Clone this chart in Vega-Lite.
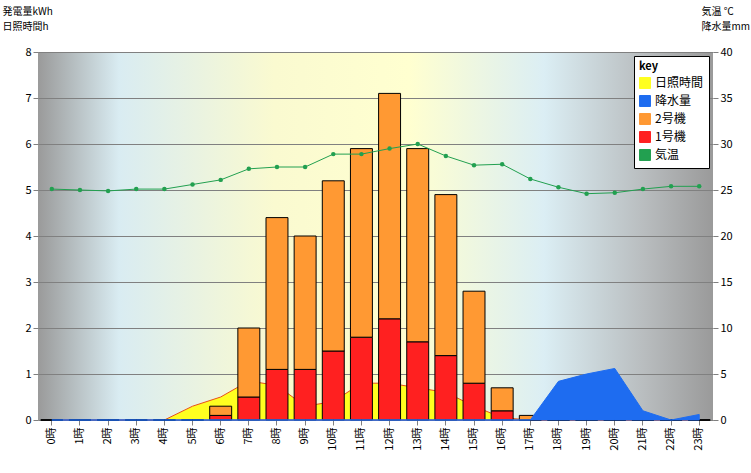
{
"$schema":"https://vega.github.io/schema/vega-lite/v6.json",
"width":675,"height":368,
"autosize":{"type":"none"},
"padding":{"left":38,"top":52,"right":38,"bottom":53},
"background":"white",
"config":{"font":"Noto Sans CJK JP","view":{"stroke":null,"fill":{"gradient":"linear","x1":0,"y1":0,"x2":1,"y2":0,"stops":[{"offset":0,"color":"#9a9a9a"},{"offset":0.12,"color":"#d9ecf2"},{"offset":0.35,"color":"#fafad0"},{"offset":0.55,"color":"#ffffd0"},{"offset":0.75,"color":"#dbeef4"},{"offset":0.9,"color":"#b8bcbe"},{"offset":1,"color":"#9a9a9a"}]}}},
"title":{"text":"2011年 6月25日(土)　総発電量 44.5kWh","fontSize":14,"fontWeight":"normal","offset":12,"color":"#000","anchor":"middle","frame":"group"},
"data":{"values":[
{"label":"0時","sun":0,"rain":0,"temp":25.1,"1号機":0,"2号機":0},
{"label":"1時","sun":0,"rain":0,"temp":25.0,"1号機":0,"2号機":0},
{"label":"2時","sun":0,"rain":0,"temp":24.9,"1号機":0,"2号機":0},
{"label":"3時","sun":0,"rain":0,"temp":25.1,"1号機":0,"2号機":0},
{"label":"4時","sun":0,"rain":0,"temp":25.1,"1号機":0,"2号機":0},
{"label":"5時","sun":0.3,"rain":0,"temp":25.6,"1号機":0,"2号機":0},
{"label":"6時","sun":0.5,"rain":0,"temp":26.1,"1号機":0.1,"2号機":0.2},
{"label":"7時","sun":0.85,"rain":0,"temp":27.3,"1号機":0.5,"2号機":1.5},
{"label":"8時","sun":0.75,"rain":0,"temp":27.5,"1号機":1.1,"2号機":3.3},
{"label":"9時","sun":0.3,"rain":0,"temp":27.5,"1号機":1.1,"2号機":2.9},
{"label":"10時","sun":0.4,"rain":0,"temp":28.9,"1号機":1.5,"2号機":3.7},
{"label":"11時","sun":0.8,"rain":0,"temp":28.9,"1号機":1.8,"2号機":4.1},
{"label":"12時","sun":0.8,"rain":0,"temp":29.5,"1号機":2.2,"2号機":4.9},
{"label":"13時","sun":0.7,"rain":0,"temp":30.0,"1号機":1.7,"2号機":4.2},
{"label":"14時","sun":0.6,"rain":0,"temp":28.7,"1号機":1.4,"2号機":3.5},
{"label":"15時","sun":0.3,"rain":0,"temp":27.7,"1号機":0.8,"2号機":2.0},
{"label":"16時","sun":0.05,"rain":0,"temp":27.8,"1号機":0.2,"2号機":0.5},
{"label":"17時","sun":0,"rain":0,"temp":26.2,"1号機":0,"2号機":0.1},
{"label":"18時","sun":0,"rain":4.2,"temp":25.3,"1号機":0,"2号機":0},
{"label":"19時","sun":0,"rain":5.0,"temp":24.6,"1号機":0,"2号機":0},
{"label":"20時","sun":0,"rain":5.6,"temp":24.7,"1号機":0,"2号機":0},
{"label":"21時","sun":0,"rain":1.0,"temp":25.1,"1号機":0,"2号機":0},
{"label":"22時","sun":0,"rain":0,"temp":25.4,"1号機":0,"2号機":0},
{"label":"23時","sun":0,"rain":0.6,"temp":25.4,"1号機":0,"2号機":0}
]},
"encoding":{"x":{"field":"label","type":"ordinal","sort":null,"scale":{"paddingInner":0.22,"paddingOuter":0.1},"axis":{"title":null,"labelAngle":-90,"labelFontSize":11,"labelColor":"#000","domainColor":"#808080","tickColor":"#808080"}}},
"layer":[
{"layer":[
{"mark":{"type":"area","stroke":"#e8501a","strokeWidth":1,"interpolate":"linear"},"encoding":{"y":{"field":"sun","type":"quantitative","scale":{"domain":[0,8]},"axis":{"tickCount":8,"grid":true,"gridColor":"#808080","labelFontSize":11,"labelColor":"#000","domain":false,"tickColor":"#808080","title":["発電量kWh","日照時間h"],"titleAngle":0,"titleAlign":"left","titleBaseline":"top","titleX":-36,"titleY":-46,"titleFontSize":10,"titleFontWeight":"normal","titleLineHeight":15}},"color":{"datum":"日照時間","type":"nominal","scale":{"domain":["日照時間","降水量","2号機","1号機","気温"],"range":["#ffff20","#1e6cf0","#ff9933","#ff2020","#22a050"]},"legend":{"title":null,"orient":"top-right","offset":4,"fillColor":"#ffffff","strokeColor":"#000","padding":5,"symbolType":"square","symbolSize":120,"symbolStrokeColor":"#000","symbolStrokeWidth":1,"labelFontSize":12,"labelColor":"#000","rowPadding":2}}}},
{"transform":[{"fold":["1号機","2号機"]}],"mark":{"type":"bar","stroke":"#000","strokeWidth":1},"encoding":{"y":{"field":"value","type":"quantitative","stack":"zero"},"color":{"field":"key","type":"nominal"},"order":{"field":"key"}}}
]},
{"layer":[
{"mark":{"type":"area","stroke":"#1e6cf0","strokeWidth":1,"fill":"#1e6cf0"},"encoding":{"y":{"field":"rain","type":"quantitative","scale":{"domain":[0,40]},"axis":{"orient":"right","tickCount":8,"grid":false,"labelFontSize":11,"labelColor":"#000","domain":false,"tickColor":"#808080","title":["気温 ℃","降水量mm"],"titleAngle":0,"titleAlign":"left","titleBaseline":"top","titleX":-12,"titleY":-46,"titleFontSize":10,"titleFontWeight":"normal","titleLineHeight":15}},"color":{"datum":"降水量","type":"nominal"}}},
{"mark":{"type":"line","color":"#22a050","point":{"filled":true,"size":20,"color":"#22a050"},"strokeWidth":1},"encoding":{"y":{"field":"temp","type":"quantitative"},"color":{"datum":"気温","type":"nominal"}}}
]}
],
"resolve":{"scale":{"y":"independent"}}
}
